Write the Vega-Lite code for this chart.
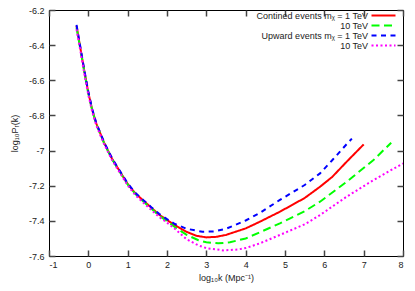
{
  "$schema": "https://vega.github.io/schema/vega-lite/v6.json",
  "width": 354,
  "height": 246,
  "autosize": {"type": "none"},
  "padding": {"left": 49, "top": 10, "right": 12, "bottom": 35},
  "background": "white",
  "config": {
    "font": "Liberation Sans",
    "view": {"stroke": "black", "strokeWidth": 1},
    "axis": {"labelFont": "Liberation Sans", "titleFont": "Liberation Sans", "labelFontSize": 9, "titleFontSize": 9, "titleFontWeight": "normal", "labelColor": "#222", "titleColor": "#222", "grid": false, "domain": false, "ticks": true, "tickColor": "#444", "tickSize": 6, "tickWidth": 1.5, "offset": -6}
  },
  "data": {"values": [
    {"x": -0.3, "y": -6.29, "s": "c1"}, {"x": -0.2, "y": -6.42, "s": "c1"}, {"x": -0.1, "y": -6.55, "s": "c1"}, {"x": 0.0, "y": -6.67, "s": "c1"}, {"x": 0.1, "y": -6.77, "s": "c1"}, {"x": 0.2, "y": -6.845, "s": "c1"}, {"x": 0.3, "y": -6.9, "s": "c1"}, {"x": 0.4, "y": -6.955, "s": "c1"}, {"x": 0.5, "y": -7.0, "s": "c1"}, {"x": 0.6, "y": -7.045, "s": "c1"}, {"x": 0.75, "y": -7.1, "s": "c1"}, {"x": 1.0, "y": -7.19, "s": "c1"}, {"x": 1.2, "y": -7.245, "s": "c1"}, {"x": 1.4, "y": -7.285, "s": "c1"}, {"x": 1.6, "y": -7.325, "s": "c1"}, {"x": 1.8, "y": -7.365, "s": "c1"}, {"x": 2.0, "y": -7.395, "s": "c1"}, {"x": 2.2, "y": -7.425, "s": "c1"}, {"x": 2.5, "y": -7.463, "s": "c1"}, {"x": 2.75, "y": -7.485, "s": "c1"}, {"x": 3.0, "y": -7.494, "s": "c1"}, {"x": 3.25, "y": -7.491, "s": "c1"}, {"x": 3.5, "y": -7.48, "s": "c1"}, {"x": 4.0, "y": -7.443, "s": "c1"}, {"x": 4.36, "y": -7.405, "s": "c1"}, {"x": 4.87, "y": -7.348, "s": "c1"}, {"x": 5.5, "y": -7.27, "s": "c1"}, {"x": 5.89, "y": -7.206, "s": "c1"}, {"x": 6.2, "y": -7.15, "s": "c1"}, {"x": 6.57, "y": -7.063, "s": "c1"}, {"x": 7.0, "y": -6.965, "s": "c1"},

    {"x": -0.3, "y": -6.3, "s": "c10"}, {"x": -0.2, "y": -6.425, "s": "c10"}, {"x": -0.1, "y": -6.555, "s": "c10"}, {"x": 0.0, "y": -6.675, "s": "c10"}, {"x": 0.1, "y": -6.772, "s": "c10"}, {"x": 0.2, "y": -6.848, "s": "c10"}, {"x": 0.3, "y": -6.903, "s": "c10"}, {"x": 0.4, "y": -6.958, "s": "c10"}, {"x": 0.5, "y": -7.003, "s": "c10"}, {"x": 0.6, "y": -7.048, "s": "c10"}, {"x": 0.75, "y": -7.103, "s": "c10"}, {"x": 1.0, "y": -7.193, "s": "c10"}, {"x": 1.2, "y": -7.248, "s": "c10"}, {"x": 1.4, "y": -7.29, "s": "c10"}, {"x": 1.6, "y": -7.33, "s": "c10"}, {"x": 1.8, "y": -7.37, "s": "c10"}, {"x": 2.0, "y": -7.402, "s": "c10"}, {"x": 2.2, "y": -7.435, "s": "c10"}, {"x": 2.5, "y": -7.48, "s": "c10"}, {"x": 2.8, "y": -7.51, "s": "c10"}, {"x": 3.0, "y": -7.522, "s": "c10"}, {"x": 3.3, "y": -7.528, "s": "c10"}, {"x": 3.6, "y": -7.522, "s": "c10"}, {"x": 4.0, "y": -7.5, "s": "c10"}, {"x": 4.36, "y": -7.465, "s": "c10"}, {"x": 4.87, "y": -7.414, "s": "c10"}, {"x": 5.5, "y": -7.345, "s": "c10"}, {"x": 5.89, "y": -7.291, "s": "c10"}, {"x": 6.57, "y": -7.177, "s": "c10"}, {"x": 7.25, "y": -7.054, "s": "c10"}, {"x": 7.7, "y": -6.955, "s": "c10"},

    {"x": -0.3, "y": -6.285, "s": "u1"}, {"x": -0.2, "y": -6.415, "s": "u1"}, {"x": -0.1, "y": -6.545, "s": "u1"}, {"x": 0.0, "y": -6.665, "s": "u1"}, {"x": 0.1, "y": -6.765, "s": "u1"}, {"x": 0.2, "y": -6.842, "s": "u1"}, {"x": 0.3, "y": -6.897, "s": "u1"}, {"x": 0.4, "y": -6.952, "s": "u1"}, {"x": 0.5, "y": -6.997, "s": "u1"}, {"x": 0.6, "y": -7.042, "s": "u1"}, {"x": 0.75, "y": -7.097, "s": "u1"}, {"x": 1.0, "y": -7.187, "s": "u1"}, {"x": 1.2, "y": -7.242, "s": "u1"}, {"x": 1.4, "y": -7.282, "s": "u1"}, {"x": 1.6, "y": -7.322, "s": "u1"}, {"x": 1.8, "y": -7.36, "s": "u1"}, {"x": 2.0, "y": -7.39, "s": "u1"}, {"x": 2.2, "y": -7.418, "s": "u1"}, {"x": 2.5, "y": -7.445, "s": "u1"}, {"x": 2.9, "y": -7.462, "s": "u1"}, {"x": 3.2, "y": -7.46, "s": "u1"}, {"x": 3.5, "y": -7.445, "s": "u1"}, {"x": 4.0, "y": -7.398, "s": "u1"}, {"x": 4.36, "y": -7.355, "s": "u1"}, {"x": 4.87, "y": -7.281, "s": "u1"}, {"x": 5.5, "y": -7.196, "s": "u1"}, {"x": 5.89, "y": -7.13, "s": "u1"}, {"x": 6.2, "y": -7.055, "s": "u1"}, {"x": 6.57, "y": -6.963, "s": "u1"}, {"x": 6.7, "y": -6.932, "s": "u1"},

    {"x": -0.3, "y": -6.31, "s": "u10"}, {"x": -0.2, "y": -6.435, "s": "u10"}, {"x": -0.1, "y": -6.565, "s": "u10"}, {"x": 0.0, "y": -6.683, "s": "u10"}, {"x": 0.1, "y": -6.78, "s": "u10"}, {"x": 0.2, "y": -6.855, "s": "u10"}, {"x": 0.3, "y": -6.91, "s": "u10"}, {"x": 0.4, "y": -6.963, "s": "u10"}, {"x": 0.5, "y": -7.008, "s": "u10"}, {"x": 0.6, "y": -7.053, "s": "u10"}, {"x": 0.75, "y": -7.108, "s": "u10"}, {"x": 1.0, "y": -7.198, "s": "u10"}, {"x": 1.2, "y": -7.255, "s": "u10"}, {"x": 1.4, "y": -7.297, "s": "u10"}, {"x": 1.6, "y": -7.338, "s": "u10"}, {"x": 1.8, "y": -7.378, "s": "u10"}, {"x": 2.0, "y": -7.41, "s": "u10"}, {"x": 2.2, "y": -7.445, "s": "u10"}, {"x": 2.5, "y": -7.505, "s": "u10"}, {"x": 2.8, "y": -7.54, "s": "u10"}, {"x": 3.0, "y": -7.555, "s": "u10"}, {"x": 3.43, "y": -7.568, "s": "u10"}, {"x": 3.8, "y": -7.563, "s": "u10"}, {"x": 4.0, "y": -7.555, "s": "u10"}, {"x": 4.36, "y": -7.528, "s": "u10"}, {"x": 4.87, "y": -7.48, "s": "u10"}, {"x": 5.5, "y": -7.42, "s": "u10"}, {"x": 5.89, "y": -7.367, "s": "u10"}, {"x": 6.57, "y": -7.262, "s": "u10"}, {"x": 7.25, "y": -7.168, "s": "u10"}, {"x": 8.0, "y": -7.073, "s": "u10"}
  ]},
  "layer": [
    {
      "mark": {"type": "line", "strokeWidth": 2, "clip": true},
      "encoding": {
        "x": {"field": "x", "type": "quantitative", "scale": {"domain": [-1, 8], "nice": false, "zero": false},
          "axis": {"orient": "bottom", "values": [-1, 0, 1, 2, 3, 4, 5, 6, 7, 8], "labelPadding": 4, "title": "log₁₀k (Mpc⁻¹)", "titlePadding": 4, "labelExpr": "replace(format(datum.value, '~g'), '−', '-')"}},
        "y": {"field": "y", "type": "quantitative", "scale": {"domain": [-7.6, -6.2], "nice": false, "zero": false},
          "axis": {"orient": "left", "values": [-7.6, -7.4, -7.2, -7, -6.8, -6.6, -6.4, -6.2], "labelPadding": 5, "title": "log₁₀Pᵣ(k)", "titlePadding": 9, "labelExpr": "replace(format(datum.value, '~g'), '−', '-')"}},
        "color": {"field": "s", "type": "nominal",
          "scale": {"domain": ["c1", "c10", "u1", "u10"], "range": ["#ff0000", "#00ff00", "#0000ff", "#ff00ff"]},
          "legend": {"title": null, "orient": "none", "legendX": 330, "legendY": 1, "padding": 0, "rowPadding": 0,
            "symbolType": "M-4,0H4", "symbolSize": 36, "symbolStrokeWidth": 2, "labelAlign": "right", "labelOffset": -20,
            "labelFontSize": 9, "labelFont": "Liberation Sans", "labelColor": "#222",
            "labelExpr": "datum.value == 'c1' ? 'Contined events mᵪ = 1 TeV' : datum.value == 'u1' ? 'Upward events mᵪ = 1 TeV' : '10 TeV'"}},
        "strokeDash": {"field": "s", "type": "nominal",
          "scale": {"domain": ["c1", "c10", "u1", "u10"], "range": [[1, 0], [8, 4.5], [5, 4.5], [2, 2.5]]},
          "legend": {"title": null, "orient": "none", "legendX": 330, "legendY": 1, "padding": 0, "rowPadding": 0,
            "symbolType": "M-4,0H4", "symbolSize": 36, "symbolStrokeWidth": 2, "labelAlign": "right", "labelOffset": -20,
            "labelFontSize": 9, "labelFont": "Liberation Sans", "labelColor": "#222",
            "labelExpr": "datum.value == 'c1' ? 'Contined events mᵪ = 1 TeV' : datum.value == 'u1' ? 'Upward events mᵪ = 1 TeV' : '10 TeV'"}}
      }
    },
    {
      "mark": {"type": "point", "opacity": 0},
      "encoding": {
        "x": {"field": "x", "type": "quantitative", "axis": {"orient": "top", "values": [-1, 0, 1, 2, 3, 4, 5, 6, 7, 8], "labels": false, "title": null}},
        "y": {"field": "y", "type": "quantitative", "axis": {"orient": "right", "values": [-7.6, -7.4, -7.2, -7, -6.8, -6.6, -6.4, -6.2], "labels": false, "title": null}}
      }
    }
  ],
  "resolve": {"axis": {"x": "independent", "y": "independent"}}
}
